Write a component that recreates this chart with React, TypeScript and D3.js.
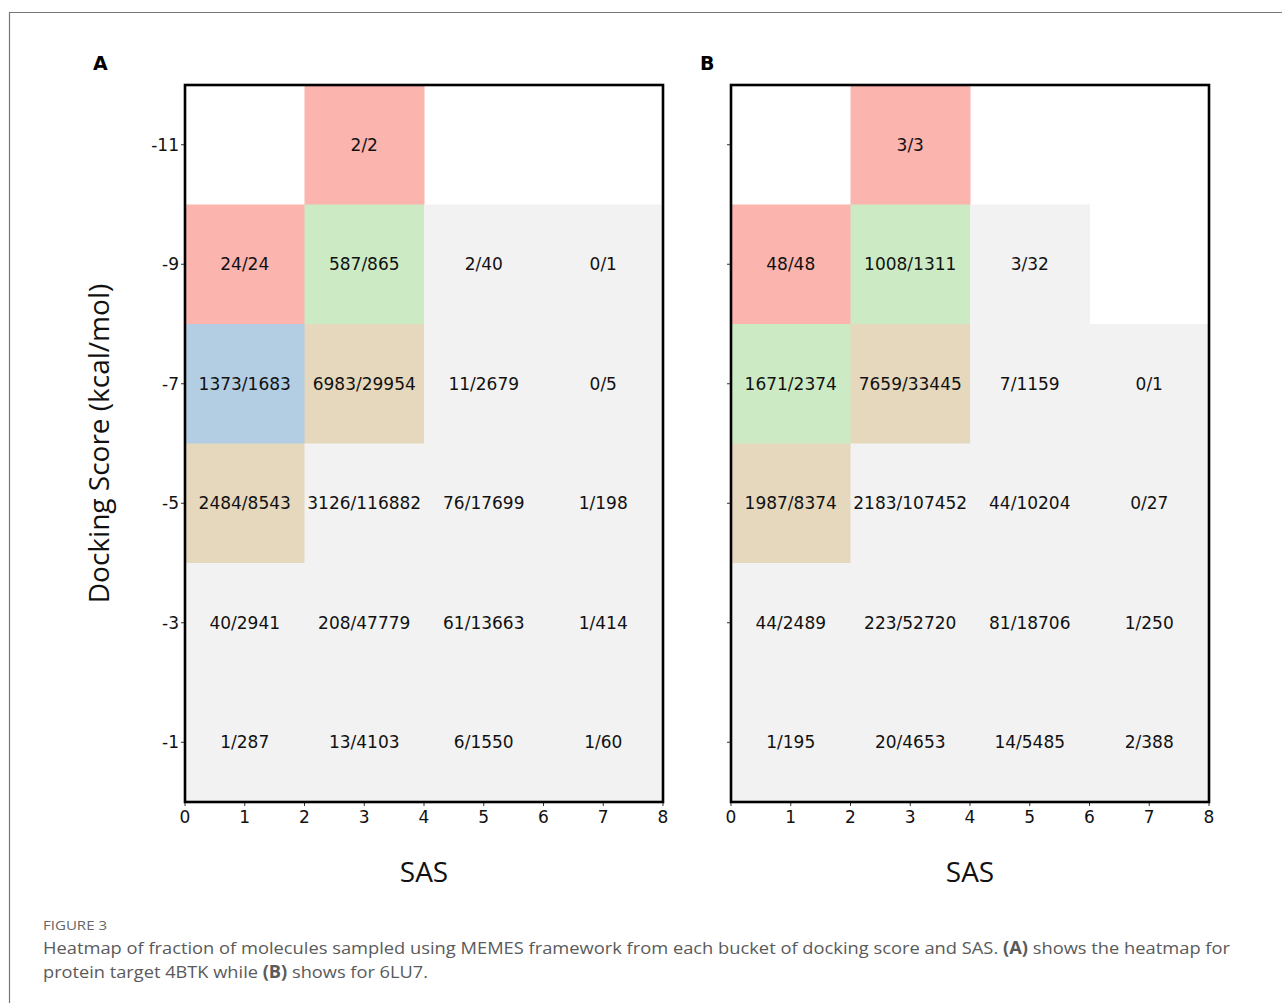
import React from "react";
import * as d3 from "d3";

// SAS buckets (cell centres) and docking-score buckets (cell centres)
const sasCenters = [1, 3, 5, 7];
const dockCenters = [-11, -9, -7, -5, -3, -1];
const xTicks = [0, 1, 2, 3, 4, 5, 6, 7, 8];

// Sampled / total molecules per bucket; rows follow dockCenters, columns follow sasCenters.
// null marks an empty bucket.
const panelA: (string | null)[][] = [
  [null, "2/2", null, null],
  ["24/24", "587/865", "2/40", "0/1"],
  ["1373/1683", "6983/29954", "11/2679", "0/5"],
  ["2484/8543", "3126/116882", "76/17699", "1/198"],
  ["40/2941", "208/47779", "61/13663", "1/414"],
  ["1/287", "13/4103", "6/1550", "1/60"],
];

const panelB: (string | null)[][] = [
  [null, "3/3", null, null],
  ["48/48", "1008/1311", "3/32", null],
  ["1671/2374", "7659/33445", "7/1159", "0/1"],
  ["1987/8374", "2183/107452", "44/10204", "0/27"],
  ["44/2489", "223/52720", "81/18706", "1/250"],
  ["1/195", "20/4653", "14/5485", "2/388"],
];

const panelLabels = ["A", "B"];
const xLabel = "SAS";
const yLabel = "Docking Score (kcal/mol)";
const captionTitle = "FIGURE 3";

// Reversed Pastel1, binned over the sampled fraction
const color = d3
  .scaleQuantize<string>()
  .domain([0, 1])
  .range([...d3.schemePastel1].reverse());

const yScale = d3.scaleLinear().domain([-12, 0]).range([85, 802]);
const tickFont = "DejaVu Sans, sans-serif";

function Heatmap({
  data,
  x0,
  x1,
  label,
  labelX,
  showYLabels,
}: {
  data: (string | null)[][];
  x0: number;
  x1: number;
  label: string;
  labelX: number;
  showYLabels: boolean;
}) {
  const xScale = d3.scaleLinear().domain([0, 8]).range([x0, x1]);
  const [yTop, yBot] = yScale.range();
  return (
    <g>
      {data.map((row, ri) =>
        row.map((cell, ci) => {
          if (cell === null) return null;
          const [n, d] = cell.split("/").map(Number);
          const cx = sasCenters[ci];
          const cy = dockCenters[ri];
          const left = xScale(cx - 1);
          const right = xScale(cx + 1);
          const top = yScale(cy - 1);
          const bottom = yScale(cy + 1);
          return (
            <g key={`${ri}-${ci}`}>
              <rect
                x={left}
                y={top}
                width={right - left + 0.5}
                height={bottom - top + 0.5}
                fill={color(Math.min(n / d, 0.9999))}
              />
              <text
                x={xScale(cx)}
                y={yScale(cy)}
                dy="0.36em"
                textAnchor="middle"
                fontFamily={tickFont}
                fontSize={17}
                fill="#111"
              >
                {cell}
              </text>
            </g>
          );
        })
      )}
      {/* y ticks */}
      {dockCenters.map((v) => (
        <g key={`yt${v}`}>
          <line
            x1={x0 - 4}
            x2={x0}
            y1={yScale(v)}
            y2={yScale(v)}
            stroke="#333"
            strokeWidth={1}
          />
          {showYLabels && (
            <text
              x={x0 - 6}
              y={yScale(v)}
              dy="0.36em"
              textAnchor="end"
              fontFamily={tickFont}
              fontSize={17}
              fill="#111"
            >
              {v}
            </text>
          )}
        </g>
      ))}
      {/* x ticks */}
      {xTicks.map((v) => (
        <g key={`xt${v}`}>
          <line
            x1={xScale(v)}
            x2={xScale(v)}
            y1={yBot}
            y2={yBot + 4}
            stroke="#333"
            strokeWidth={1}
          />
          <text
            x={xScale(v)}
            y={yBot + 21}
            textAnchor="middle"
            fontFamily={tickFont}
            fontSize={17}
            fill="#111"
          >
            {v}
          </text>
        </g>
      ))}
      <rect
        x={x0}
        y={yTop}
        width={x1 - x0}
        height={yBot - yTop}
        fill="none"
        stroke="#000"
        strokeWidth={2.6}
      />
      <text
        x={(x0 + x1) / 2}
        y={882}
        textAnchor="middle"
        fontFamily="Open Sans, sans-serif"
        fontSize={28}
        fill="#111"
      >
        {xLabel}
      </text>
      <text
        x={labelX}
        y={70}
        fontFamily={tickFont}
        fontWeight="bold"
        fontSize={19}
        fill="#000"
      >
        {label}
      </text>
    </g>
  );
}

export default function App() {
  return (
    <svg
      width={1282}
      height={1003}
      style={{ position: "absolute", left: 0, top: 0, background: "#fff" }}
    >
      <rect width={1282} height={1003} fill="#fff" />
      {/* figure frame */}
      <path d="M9.5,1003 V12.5 H1282" fill="none" stroke="#777" strokeWidth={1.2} />
      <Heatmap data={panelA} x0={185} x1={663} label={panelLabels[0]} labelX={93} showYLabels />
      <Heatmap data={panelB} x0={731} x1={1209} label={panelLabels[1]} labelX={700} showYLabels={false} />
      <text
        transform={`translate(109,${(85 + 802) / 2}) rotate(-90)`}
        textAnchor="middle"
        fontFamily="Open Sans, sans-serif"
        fontSize={28}
        fill="#111"
      >
        {yLabel}
      </text>
      <text
        x={43}
        y={930}
        fontFamily="Open Sans, sans-serif"
        fontSize={13}
        fill="#666"
        textLength={64}
        lengthAdjust="spacingAndGlyphs"
      >
        {captionTitle}
      </text>
      <text
        x={43}
        y={954}
        fontFamily="Open Sans, sans-serif"
        fontSize={17}
        fill="#5a5a5a"
        textLength={1187}
        lengthAdjust="spacingAndGlyphs"
      >
        Heatmap of fraction of molecules sampled using MEMES framework from each bucket of docking score and SAS.{" "}
        <tspan fontWeight="bold">(A)</tspan> shows the heatmap for
      </text>
      <text
        x={43}
        y={978}
        fontFamily="Open Sans, sans-serif"
        fontSize={17}
        fill="#5a5a5a"
        textLength={385}
        lengthAdjust="spacingAndGlyphs"
      >
        protein target 4BTK while <tspan fontWeight="bold">(B)</tspan> shows for 6LU7.
      </text>
    </svg>
  );
}
